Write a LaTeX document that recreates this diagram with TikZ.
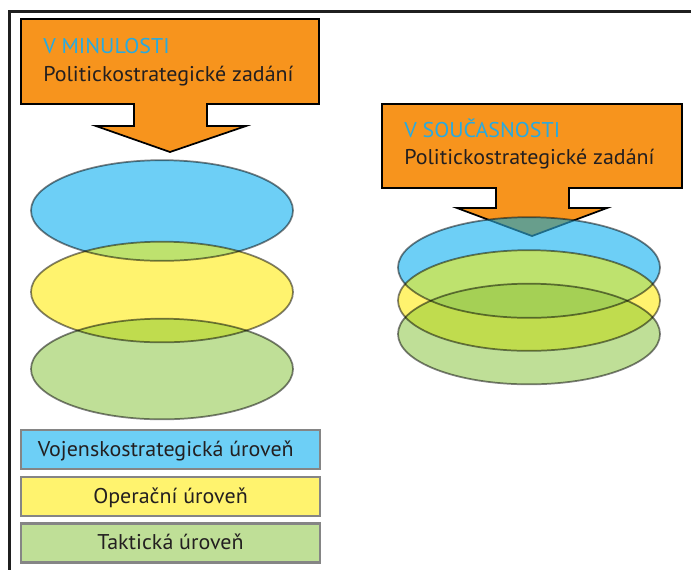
\documentclass[tikz,border=0pt]{standalone}
\usepackage{fontspec}
\setmainfont[FakeStretch=1.03]{PT Sans}
\definecolor{orangeF}{HTML}{F7941D}
\definecolor{blueF}{HTML}{6DCFF6}
\definecolor{yellowF}{HTML}{FFF36E}
\definecolor{greenF}{HTML}{BFDF97}
\definecolor{byF}{HTML}{BEE26E}
\definecolor{ygF}{HTML}{C0DC4E}
\definecolor{bygF}{HTML}{A5D055}
\definecolor{obF}{HTML}{689E8C}
\definecolor{obLine}{HTML}{1F6B86}
\definecolor{titleC}{HTML}{27AAE1}
\definecolor{textC}{HTML}{231F20}
\definecolor{legLine}{HTML}{858585}
\newcommand\ellp[1]{(#1) ellipse [x radius=98.25pt, y radius=37.75pt]}
\newcommand\arrowL{(21,19) -- (319,19) -- (319,104) -- (207,104) -- (207,126) -- (246,126) -- (170,152) -- (96,126) -- (134,126) -- (134,104) -- (21,104) -- cycle}
\newcommand\arrowR{(382,104) -- (682,104) -- (682,188) -- (569,188) -- (569,208) -- (607,208) -- (532,236) -- (457,208) -- (496,208) -- (496,188) -- (382,188) -- cycle}
\tikzset{
  arrowbox/.style={fill=orangeF, draw=black, line width=1.3pt, line join=miter},
  ellstroke/.style={draw=black, draw opacity=0.5, line width=1.3pt},
  titletext/.style={anchor=base west, inner sep=0pt, font=\fontsize{16}{18}\selectfont, text=textC},
  legbox/.style={draw=legLine, line width=1.6pt, minimum width=224pt, minimum height=29.25pt,
    inner sep=0pt, text height=12.5pt, text depth=2.7pt, font=\fontsize{16}{18}\selectfont, text=textC}
}
\begin{document}
\begin{tikzpicture}[x=0.75pt,y=-0.75pt]
\useasboundingbox (0,0) rectangle (691,569);
% frame
\coordinate (fbl) at (9.5,575);
\coordinate (ftl) at (9.5,11.3);
\coordinate (ftr) at (700,11.3);
\draw[line width=1.8pt, color=black!88] (fbl) -- (ftl) -- (ftr);
% ellipse centres
\coordinate (LB) at (162,210.5);
\coordinate (LY) at (162,292);
\coordinate (LG) at (162,369);
\coordinate (RB) at (529,267.5);
\coordinate (RY) at (529,300.5);
\coordinate (RG) at (529,334);
% arrows
\path[arrowbox] \arrowL;
\path[arrowbox] \arrowR;
% ellipse fills
\fill[blueF] \ellp{LB};
\fill[yellowF] \ellp{LY};
\fill[greenF] \ellp{LG};
\fill[blueF] \ellp{RB};
\fill[yellowF] \ellp{RY};
\fill[greenF] \ellp{RG};
% overlaps left
\begin{scope}\clip \ellp{LB}; \fill[byF] \ellp{LY};\end{scope}
\begin{scope}\clip \ellp{LY}; \fill[ygF] \ellp{LG};\end{scope}
% overlaps right
\begin{scope}\clip \ellp{RB}; \fill[byF] \ellp{RY};\end{scope}
\begin{scope}\clip \ellp{RY}; \fill[ygF] \ellp{RG};\end{scope}
\begin{scope}\clip \ellp{RB}; \fill[bygF] \ellp{RG};\end{scope}
\begin{scope}\clip \ellp{RB}; \fill[obF] \arrowR; \draw[obLine, line width=1.3pt, line join=miter] \arrowR;\end{scope}
% ellipse outlines
\path[ellstroke] \ellp{LB};
\path[ellstroke] \ellp{LY};
\path[ellstroke] \ellp{LG};
\path[ellstroke] \ellp{RB};
\path[ellstroke] \ellp{RY};
\path[ellstroke] \ellp{RG};
% titles
\node[titletext, text=titleC] (tl1) at (43,53.3) {V MINULOSTI};
\node[titletext] (tl2) at (43,81) {Politickostrategické zadání};
\node[titletext, text=titleC] (tr1) at (404,137) {V SOUČASNOSTI};
\node[titletext] (tr2) at (404,164.5) {Politickostrategické zadání};
% legend
\node[legbox, fill=blueF] (leg1) at (170.5,449.5) {\hspace*{-7pt}Vojenskostrategická úroveň};
\node[legbox, fill=yellowF] (leg2) at (170.5,496.5) {Operační úroveň};
\node[legbox, fill=greenF] (leg3) at (170.5,543) {Taktická úroveň};
\end{tikzpicture}
\end{document}
